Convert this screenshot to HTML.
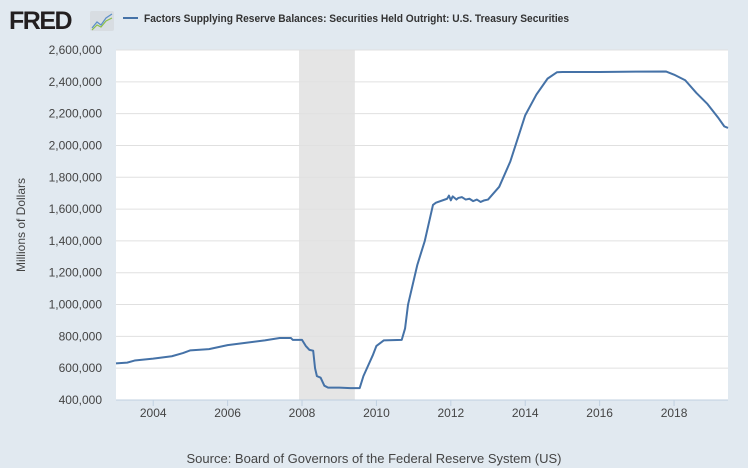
<!DOCTYPE html>
<html><head><meta charset="utf-8"><style>
body{margin:0;background:#e1e9f0;font-family:"Liberation Sans",sans-serif}
svg{display:block}
</style></head><body>
<svg width="748" height="468" id="chart">
<rect width="748" height="468" fill="#e1e9f0"/>
<g>
<text x="9" y="29" font-size="25" font-weight="bold" fill="#231f20" font-family="Liberation Sans" letter-spacing="-1.5">FRED</text>
<rect x="90" y="11" width="24" height="20" rx="2" fill="#d8dde2"/>
<polyline points="92,28 97,22 101,25 106,18 112,14" fill="none" stroke="#5b8ec7" stroke-width="1.2"/>
<polyline points="92,30 97,25 101,27 106,21 112,18" fill="none" stroke="#8cbf4a" stroke-width="1.2"/>
</g>
<g>
<line x1="123" y1="18" x2="138" y2="18" stroke="#4572a7" stroke-width="2"/>
<text x="144" y="22" font-size="11" font-weight="bold" fill="#333" textLength="425" lengthAdjust="spacingAndGlyphs">Factors Supplying Reserve Balances: Securities Held Outright: U.S. Treasury Securities</text>
</g>
<rect x="116" y="50" width="612" height="350" fill="#fff"/>
<g id="rec"></g><g id="grid"></g><g id="yt"></g><g id="xt"></g><g id="ser"></g>
<text x="25" y="225" font-size="12" fill="#444" text-anchor="middle" transform="rotate(-90 25 225)">Millions of Dollars</text>
<text x="374" y="463" font-size="13" fill="#444" text-anchor="middle">Source: Board of Governors of the Federal Reserve System (US)</text>
</svg>
<script>
const yTicks=[400000,600000,800000,1000000,1200000,1400000,1600000,1800000,2000000,2200000,2400000,2600000];
const xTicks=[2004,2006,2008,2010,2012,2014,2016,2018];
const recessions=[[2007.92,2009.42]];
const years=[2003.0,2003.3,2003.5,2004.0,2004.5,2004.8,2005.0,2005.5,2006.0,2006.5,2007.0,2007.4,2007.7,2007.75,2008.0,2008.1,2008.2,2008.3,2008.35,2008.4,2008.5,2008.6,2008.7,2009.0,2009.3,2009.55,2009.65,2009.9,2010.0,2010.2,2010.68,2010.77,2010.85,2011.1,2011.3,2011.52,2011.6,2011.9,2011.95,2012.0,2012.05,2012.15,2012.2,2012.3,2012.4,2012.5,2012.6,2012.7,2012.8,2012.9,2013.0,2013.3,2013.6,2014.0,2014.3,2014.6,2014.85,2015.0,2016.0,2017.0,2017.78,2018.0,2018.3,2018.6,2018.9,2019.2,2019.35,2019.45];
const values=[630,635,648,660,675,695,712,720,745,760,775,790,790,778,778,740,715,710,600,550,540,490,478,478,475,475,550,680,740,775,778,850,1000,1250,1400,1626,1640,1665,1685,1655,1680,1660,1670,1675,1660,1665,1650,1660,1645,1655,1660,1740,1900,2190,2320,2420,2460,2462,2462,2464,2465,2445,2410,2330,2260,2170,2120,2110].map(v=>v*1000);
const X0=2003.0,X1=2019.45,Y0=400000,Y1=2600000,L=116,R=728,T=50,B=400;
const sx=y=>L+(y-X0)/(X1-X0)*(R-L), sy=v=>B-(v-Y0)/(Y1-Y0)*(B-T);
const NS="http://www.w3.org/2000/svg";
function mk(p,t,a){const e=document.createElementNS(NS,t);for(const k in a)e.setAttribute(k,a[k]);document.getElementById(p).appendChild(e);return e;}
recessions.forEach(r=>{const e=mk('rec','rect',{x:sx(r[0]),y:T,width:sx(r[1])-sx(r[0]),height:B-T,fill:'#e5e5e5'});

});
yTicks.forEach(v=>{const g=mk('grid','line',{x1:L,x2:R,y1:sy(v),y2:sy(v),stroke:v===Y0?'#c0d0e0':'#e0e0e0','stroke-width':1});


const t=mk('yt','text',{x:102,y:sy(v)+4,'font-size':12,fill:'#444','text-anchor':'end'});


t.textContent=v.toLocaleString('en-US');});
xTicks.forEach(y=>{const l=mk('xt','line',{x1:sx(y),x2:sx(y),y1:B,y2:B+6,stroke:'#c0d0e0'});


const t=mk('xt','text',{x:sx(y),y:B+17,'font-size':12,fill:'#444','text-anchor':'middle'});


t.textContent=y;});
const p=mk('ser','polyline',{points:years.map((y,i)=>sx(y)+','+sy(values[i])).join(' '),fill:'none',stroke:'#4572a7','stroke-width':2,'stroke-linejoin':'round'});


</script>
</body></html>
